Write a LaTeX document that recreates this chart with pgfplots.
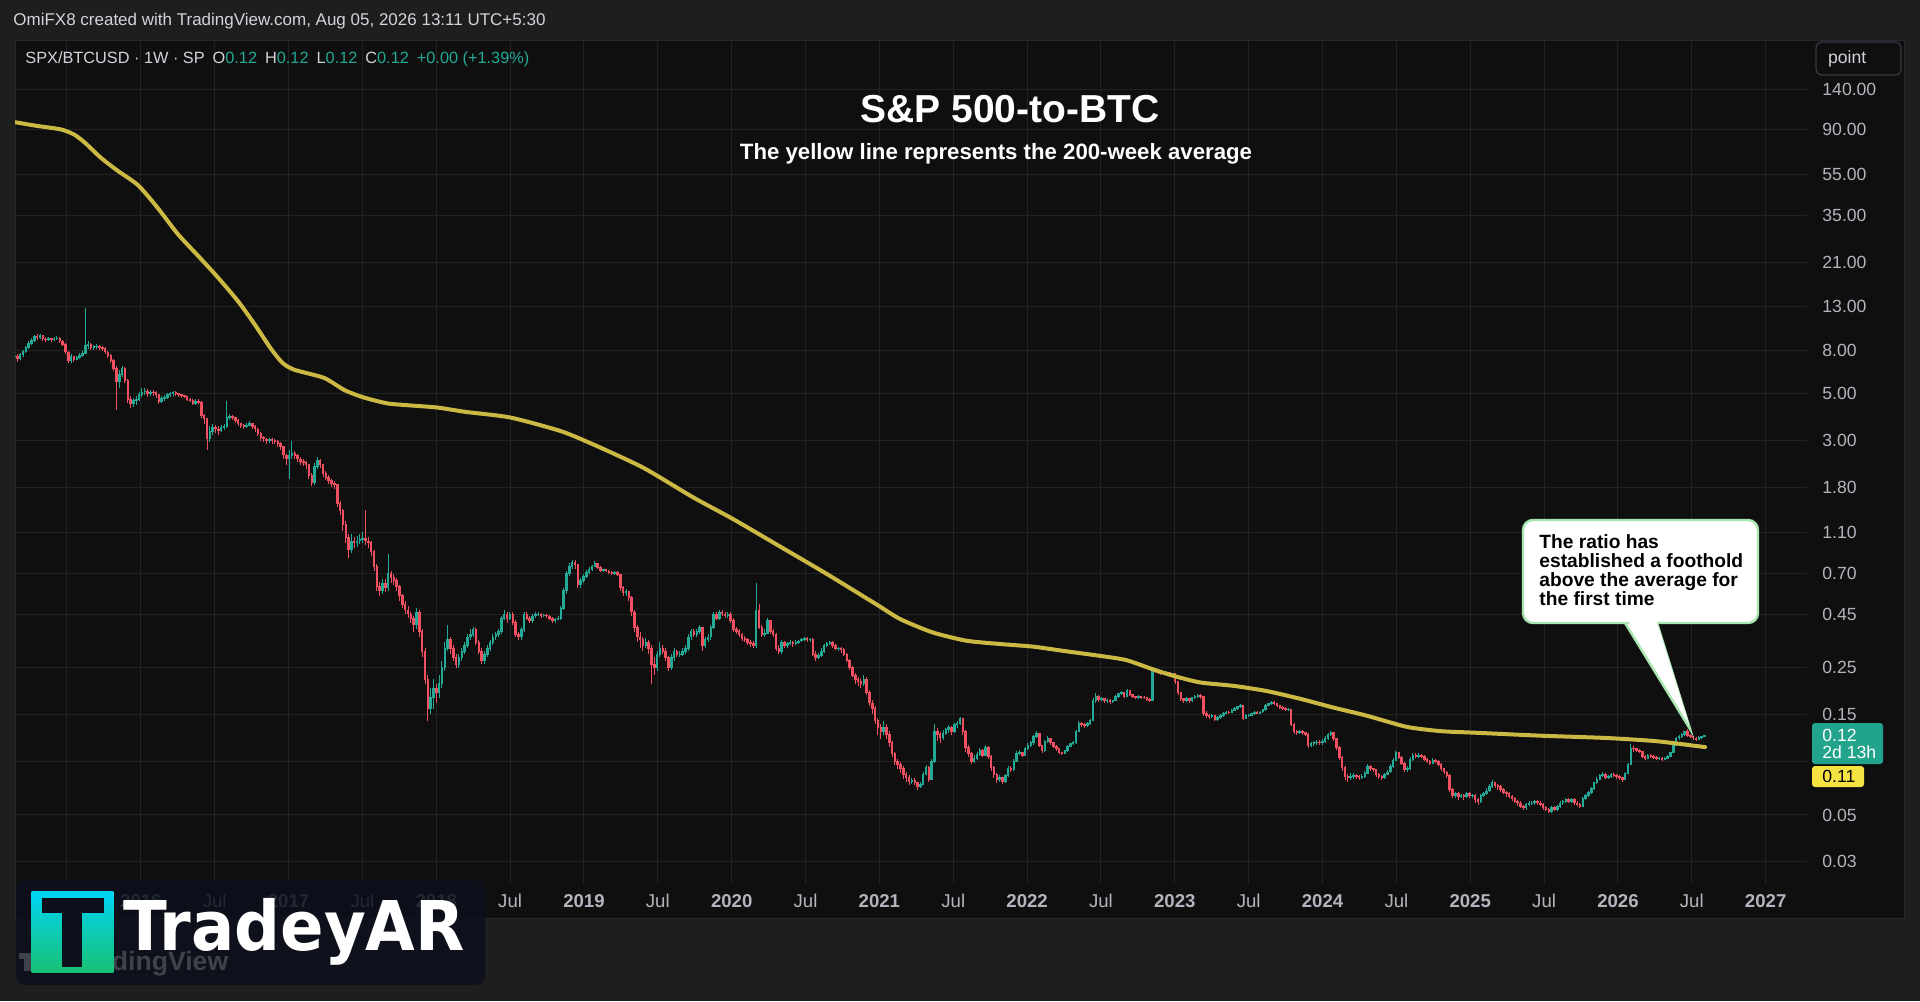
\documentclass[border=0pt]{standalone}
\usepackage{pgfplots}
\pgfplotsset{compat=1.18}
\usepackage{pgfplotstable}
\usepackage{fontspec}
\setmainfont{Liberation Sans}
\newfontfamily\logofont{DejaVu Sans}
\definecolor{bgout}{HTML}{1E1E1E}
\definecolor{bgpanel}{HTML}{0F0F0F}
\definecolor{gridc}{HTML}{222222}
\definecolor{upc}{HTML}{24A996}
\definecolor{dnc}{HTML}{F05060}
\definecolor{mac}{HTML}{CCB944}
\definecolor{txt}{HTML}{D1D4DC}
\definecolor{tickc}{HTML}{B2B5BE}
\definecolor{tagg}{HTML}{22A38C}
\definecolor{tagy}{HTML}{F5E342}
\definecolor{annb}{HTML}{A8E6B0}
\definecolor{logobg}{HTML}{0C101C}
\definecolor{iconT}{HTML}{00D4F5}
\definecolor{iconB}{HTML}{18C173}
\definecolor{wm}{HTML}{3E424B}
\definecolor{btnb}{HTML}{363A45}

\pgfplotstableread{
c h l
7.55 7.85 7.30
7.35 7.70 7.10
7.65 7.80 7.20
7.95 8.10 7.50
8.30 8.45 7.80
8.65 8.90 8.20
8.95 9.20 8.50
9.40 9.55 8.80
9.25 9.60 9.00
9.45 9.60 9.10
9.10 9.50 8.90
9.00 9.30 8.80
9.15 9.30 8.90
9.00 9.25 8.80
9.10 9.30 8.90
9.20 9.40 9.00
8.90 9.30 8.70
8.60 9.00 8.40
7.90 8.70 7.70
7.20 8.00 7.00
7.50 7.70 7.00
7.30 7.60 7.10
7.45 7.60 7.20
7.60 7.80 7.30
7.80 8.00 7.50
8.45 12.8 7.70
8.60 8.90 8.20
8.30 8.70 8.10
8.35 8.50 8.10
8.40 8.60 8.20
8.30 8.50 8.10
8.20 8.40 8.00
7.90 8.30 7.70
7.60 8.00 7.40
7.20 7.70 7.00
6.60 7.30 6.40
5.70 6.80 4.20
6.20 6.50 5.30
6.60 6.80 6.00
5.80 6.70 5.60
4.70 5.90 4.50
4.50 4.90 4.30
4.65 4.80 4.35
4.70 4.90 4.40
4.95 5.10 4.60
5.10 5.30 4.85
5.15 5.30 4.95
5.00 5.25 4.85
5.10 5.20 4.90
5.05 5.20 4.90
4.95 5.15 4.80
4.60 5.00 4.45
4.75 4.90 4.50
4.80 4.95 4.60
4.95 5.05 4.70
5.00 5.10 4.85
5.05 5.15 4.90
5.00 5.15 4.90
4.95 5.05 4.85
4.90 5.00 4.80
4.85 4.95 4.75
4.70 4.90 4.60
4.65 4.80 4.55
4.50 4.70 4.40
4.60 4.70 4.40
4.55 4.70 4.45
3.95 4.60 3.85
3.80 4.00 3.60
3.07 3.85 2.70
3.30 3.50 2.95
3.45 3.60 3.20
3.40 3.55 3.25
3.35 3.50 3.20
3.45 3.55 3.30
3.50 3.60 3.35
3.85 4.60 3.45
3.90 4.00 3.75
3.85 3.95 3.75
3.75 3.90 3.65
3.60 3.80 3.50
3.55 3.65 3.45
3.50 3.60 3.40
3.55 3.65 3.45
3.60 3.70 3.50
3.50 3.65 3.40
3.40 3.55 3.30
3.25 3.45 3.15
3.10 3.30 3.00
3.05 3.15 2.95
3.00 3.10 2.90
3.02 3.10 2.92
3.00 3.08 2.90
2.98 3.06 2.88
2.90 3.02 2.80
2.80 2.95 2.70
2.56 2.82 2.45
2.45 2.60 2.30
2.55 2.70 1.96
2.60 3.00 2.45
2.55 2.68 2.45
2.45 2.60 2.38
2.39 2.50 2.30
2.35 2.45 2.28
2.30 2.40 2.20
2.05 2.32 1.98
1.90 2.10 1.82
2.25 2.35 1.85
2.40 2.50 2.20
2.30 2.45 2.22
2.10 2.32 2.02
2.00 2.15 1.94
1.93 2.05 1.86
1.88 1.98 1.80
1.85 1.92 1.76
1.50 1.86 1.45
1.40 1.55 1.33
1.20 1.42 1.12
1.04 1.24 0.98
0.91 1.08 0.83
1.00 1.08 0.88
0.98 1.05 0.93
1.00 1.06 0.94
1.02 1.08 0.97
1.03 1.10 0.98
1.00 1.40 0.96
0.98 1.05 0.93
0.89 1.00 0.85
0.76 0.91 0.72
0.61 0.78 0.58
0.58 0.64 0.55
0.63 0.66 0.56
0.60 0.66 0.57
0.70 0.87 0.58
0.67 0.72 0.63
0.65 0.70 0.62
0.61 0.67 0.58
0.55 0.62 0.52
0.50 0.56 0.48
0.47 0.52 0.45
0.45 0.49 0.43
0.43 0.46 0.41
0.40 0.44 0.37
0.46 0.48 0.38
0.37 0.47 0.35
0.30 0.38 0.28
0.22 0.31 0.21
0.16 0.23 0.14
0.18 0.20 0.15
0.20 0.22 0.16
0.19 0.21 0.17
0.21 0.23 0.18
0.25 0.27 0.20
0.31 0.33 0.24
0.34 0.40 0.30
0.31 0.35 0.29
0.28 0.32 0.27
0.26 0.29 0.25
0.28 0.29 0.25
0.30 0.31 0.27
0.32 0.33 0.29
0.35 0.36 0.31
0.36 0.38 0.34
0.38 0.39 0.35
0.33 0.385 0.32
0.30 0.34 0.29
0.27 0.31 0.26
0.29 0.30 0.26
0.31 0.32 0.28
0.33 0.34 0.30
0.35 0.36 0.32
0.36 0.37 0.34
0.37 0.38 0.35
0.43 0.44 0.36
0.45 0.47 0.42
0.43 0.46 0.41
0.45 0.46 0.42
0.41 0.46 0.40
0.36 0.42 0.35
0.35 0.37 0.34
0.38 0.39 0.34
0.45 0.46 0.37
0.43 0.46 0.42
0.42 0.44 0.41
0.44 0.45 0.41
0.45 0.46 0.43
0.45 0.46 0.44
0.44 0.455 0.43
0.445 0.45 0.435
0.44 0.45 0.43
0.43 0.445 0.42
0.42 0.435 0.41
0.425 0.43 0.41
0.43 0.44 0.42
0.48 0.49 0.42
0.58 0.60 0.47
0.70 0.72 0.56
0.76 0.79 0.68
0.79 0.81 0.74
0.77 0.81 0.74
0.62 0.78 0.60
0.65 0.67 0.60
0.68 0.70 0.63
0.71 0.73 0.67
0.73 0.75 0.70
0.76 0.77 0.72
0.78 0.80 0.75
0.75 0.79 0.74
0.72 0.76 0.71
0.73 0.74 0.71
0.72 0.74 0.71
0.71 0.73 0.70
0.70 0.72 0.69
0.71 0.72 0.69
0.69 0.72 0.68
0.60 0.70 0.58
0.57 0.61 0.55
0.575 0.59 0.55
0.54 0.58 0.52
0.46 0.55 0.44
0.39 0.47 0.37
0.35 0.40 0.33
0.34 0.37 0.31
0.32 0.35 0.30
0.33 0.345 0.31
0.31 0.34 0.29
0.26 0.32 0.21
0.25 0.28 0.23
0.29 0.30 0.24
0.31 0.33 0.28
0.30 0.32 0.29
0.28 0.31 0.27
0.25 0.285 0.24
0.28 0.29 0.245
0.30 0.31 0.27
0.29 0.305 0.28
0.29 0.30 0.28
0.30 0.31 0.285
0.31 0.32 0.29
0.35 0.36 0.30
0.37 0.38 0.34
0.36 0.38 0.35
0.37 0.38 0.35
0.39 0.40 0.36
0.32 0.39 0.30
0.34 0.35 0.31
0.35 0.36 0.33
0.39 0.40 0.34
0.45 0.46 0.38
0.43 0.46 0.42
0.46 0.47 0.42
0.45 0.47 0.44
0.44 0.46 0.43
0.45 0.46 0.43
0.42 0.46 0.41
0.38 0.43 0.37
0.37 0.39 0.36
0.36 0.38 0.35
0.345 0.365 0.335
0.34 0.355 0.33
0.33 0.345 0.32
0.325 0.34 0.315
0.32 0.335 0.31
0.47 0.63 0.31
0.39 0.50 0.38
0.36 0.40 0.35
0.365 0.38 0.35
0.42 0.43 0.36
0.37 0.42 0.36
0.36 0.38 0.35
0.31 0.365 0.30
0.30 0.32 0.29
0.33 0.34 0.29
0.32 0.335 0.31
0.325 0.33 0.31
0.33 0.34 0.32
0.325 0.335 0.315
0.33 0.34 0.32
0.335 0.34 0.325
0.34 0.345 0.33
0.345 0.35 0.335
0.34 0.35 0.33
0.34 0.345 0.33
0.29 0.345 0.285
0.28 0.30 0.27
0.285 0.295 0.275
0.30 0.31 0.28
0.32 0.325 0.295
0.325 0.33 0.315
0.33 0.335 0.32
0.32 0.335 0.31
0.31 0.325 0.305
0.31 0.315 0.30
0.305 0.315 0.295
0.29 0.31 0.285
0.27 0.295 0.265
0.25 0.275 0.245
0.23 0.255 0.225
0.22 0.235 0.21
0.215 0.225 0.205
0.21 0.22 0.20
0.22 0.23 0.205
0.19 0.225 0.185
0.17 0.195 0.165
0.16 0.175 0.15
0.14 0.165 0.135
0.13 0.145 0.12
0.125 0.135 0.115
0.13 0.14 0.12
0.12 0.135 0.115
0.11 0.125 0.105
0.098 0.112 0.094
0.09 0.10 0.086
0.087 0.092 0.083
0.083 0.089 0.079
0.078 0.085 0.074
0.075 0.08 0.072
0.072 0.077 0.069
0.073 0.075 0.07
0.071 0.075 0.069
0.068 0.072 0.066
0.07 0.072 0.067
0.078 0.08 0.069
0.084 0.086 0.077
0.074 0.085 0.072
0.09 0.092 0.073
0.125 0.135 0.088
0.12 0.13 0.112
0.117 0.124 0.11
0.122 0.126 0.114
0.127 0.13 0.12
0.13 0.134 0.123
0.124 0.132 0.12
0.134 0.136 0.122
0.136 0.14 0.13
0.144 0.146 0.133
0.124 0.145 0.12
0.105 0.126 0.1
0.098 0.107 0.094
0.09 0.1 0.087
0.093 0.096 0.088
0.097 0.099 0.091
0.101 0.104 0.095
0.096 0.103 0.094
0.105 0.107 0.095
0.095 0.106 0.092
0.084 0.096 0.081
0.078 0.085 0.075
0.074 0.079 0.071
0.075 0.077 0.072
0.072 0.076 0.07
0.077 0.078 0.071
0.083 0.085 0.076
0.082 0.085 0.08
0.09 0.092 0.081
0.098 0.101 0.089
0.099 0.102 0.096
0.096 0.1 0.094
0.103 0.105 0.095
0.107 0.11 0.102
0.11 0.112 0.105
0.118 0.12 0.108
0.122 0.125 0.116
0.107 0.123 0.105
0.101 0.108 0.098
0.112 0.114 0.1
0.115 0.118 0.11
0.11 0.116 0.108
0.106 0.111 0.104
0.103 0.107 0.101
0.099 0.104 0.097
0.098 0.1 0.096
0.101 0.102 0.097
0.106 0.107 0.1
0.109 0.11 0.105
0.11 0.112 0.107
0.125 0.127 0.109
0.136 0.14 0.124
0.134 0.138 0.131
0.133 0.136 0.13
0.136 0.138 0.131
0.14 0.143 0.134
0.174 0.18 0.139
0.183 0.19 0.17
0.177 0.185 0.172
0.179 0.182 0.174
0.174 0.18 0.17
0.175 0.178 0.171
0.172 0.177 0.168
0.174 0.176 0.17
0.183 0.186 0.173
0.188 0.19 0.18
0.19 0.193 0.185
0.183 0.191 0.18
0.195 0.198 0.182
0.186 0.196 0.184
0.182 0.188 0.179
0.18 0.184 0.177
0.182 0.185 0.178
0.181 0.184 0.178
0.18 0.183 0.177
0.177 0.182 0.174
0.175 0.179 0.172
0.242 0.25 0.174
0.24 0.246 0.235
0.237 0.242 0.233
0.235 0.24 0.231
0.234 0.238 0.23
0.237 0.24 0.232
0.234 0.239 0.231
0.234 0.237 0.231
0.215 0.235 0.21
0.19 0.217 0.186
0.178 0.192 0.174
0.174 0.18 0.17
0.178 0.181 0.172
0.174 0.18 0.171
0.18 0.182 0.172
0.182 0.185 0.177
0.185 0.188 0.179
0.182 0.187 0.178
0.152 0.183 0.148
0.148 0.155 0.145
0.146 0.15 0.143
0.148 0.15 0.144
0.142 0.149 0.139
0.145 0.147 0.14
0.148 0.15 0.143
0.152 0.154 0.146
0.154 0.156 0.15
0.153 0.156 0.151
0.157 0.159 0.152
0.16 0.162 0.155
0.163 0.165 0.158
0.166 0.168 0.161
0.144 0.167 0.141
0.148 0.15 0.142
0.149 0.151 0.146
0.151 0.153 0.147
0.154 0.156 0.149
0.152 0.156 0.15
0.154 0.156 0.15
0.158 0.16 0.152
0.166 0.168 0.156
0.169 0.171 0.164
0.171 0.173 0.167
0.169 0.173 0.166
0.166 0.17 0.163
0.162 0.167 0.159
0.16 0.164 0.157
0.158 0.162 0.155
0.158 0.161 0.155
0.135 0.159 0.132
0.124 0.137 0.121
0.123 0.126 0.12
0.125 0.127 0.121
0.123 0.126 0.12
0.121 0.124 0.118
0.107 0.122 0.104
0.109 0.111 0.105
0.11 0.112 0.106
0.111 0.113 0.108
0.11 0.113 0.107
0.112 0.115 0.107
0.115 0.118 0.11
0.12 0.122 0.113
0.123 0.125 0.118
0.115 0.124 0.112
0.105 0.116 0.102
0.094 0.106 0.091
0.084 0.095 0.081
0.076 0.085 0.073
0.075 0.078 0.072
0.076 0.079 0.073
0.077 0.079 0.074
0.076 0.078 0.074
0.075 0.077 0.073
0.076 0.078 0.074
0.079 0.081 0.075
0.085 0.087 0.078
0.083 0.086 0.081
0.082 0.084 0.08
0.078 0.083 0.076
0.076 0.079 0.074
0.075 0.077 0.073
0.078 0.079 0.074
0.08 0.082 0.077
0.085 0.087 0.079
0.091 0.093 0.084
0.099 0.101 0.09
0.094 0.1 0.092
0.088 0.095 0.086
0.082 0.089 0.08
0.083 0.085 0.08
0.092 0.094 0.082
0.096 0.098 0.09
0.095 0.098 0.093
0.096 0.098 0.093
0.095 0.097 0.093
0.092 0.096 0.09
0.09 0.093 0.088
0.088 0.091 0.086
0.091 0.093 0.087
0.09 0.092 0.088
0.087 0.091 0.085
0.083 0.088 0.081
0.08 0.084 0.078
0.077 0.081 0.075
0.066 0.078 0.064
0.062 0.067 0.06
0.063 0.064 0.06
0.061 0.064 0.059
0.062 0.063 0.06
0.061 0.063 0.059
0.063 0.064 0.06
0.062 0.064 0.06
0.062 0.063 0.06
0.059 0.063 0.057
0.058 0.06 0.056
0.062 0.063 0.057
0.063 0.064 0.061
0.065 0.067 0.062
0.068 0.07 0.064
0.071 0.073 0.067
0.069 0.072 0.067
0.068 0.07 0.066
0.066 0.069 0.064
0.064 0.067 0.063
0.063 0.065 0.061
0.061 0.064 0.06
0.06 0.062 0.058
0.058 0.061 0.057
0.057 0.059 0.055
0.055 0.058 0.054
0.054 0.056 0.053
0.056 0.057 0.053
0.057 0.058 0.055
0.057 0.058 0.056
0.058 0.059 0.056
0.057 0.059 0.056
0.056 0.058 0.055
0.054 0.057 0.053
0.053 0.055 0.052
0.052 0.054 0.051
0.054 0.055 0.051
0.053 0.055 0.052
0.055 0.056 0.052
0.057 0.058 0.054
0.058 0.059 0.056
0.059 0.06 0.057
0.058 0.06 0.057
0.059 0.06 0.057
0.057 0.06 0.056
0.056 0.058 0.055
0.055 0.057 0.054
0.06 0.061 0.055
0.062 0.063 0.059
0.064 0.065 0.061
0.067 0.068 0.063
0.071 0.072 0.066
0.074 0.076 0.07
0.077 0.078 0.073
0.078 0.08 0.076
0.075 0.079 0.074
0.076 0.077 0.074
0.078 0.079 0.075
0.077 0.079 0.076
0.076 0.078 0.074
0.075 0.077 0.073
0.074 0.076 0.072
0.079 0.08 0.073
0.087 0.088 0.078
0.104 0.109 0.086
0.103 0.106 0.1
0.101 0.104 0.099
0.1 0.103 0.098
0.095 0.101 0.093
0.093 0.096 0.091
0.096 0.097 0.092
0.095 0.097 0.093
0.094 0.096 0.092
0.093 0.095 0.091
0.093 0.094 0.091
0.092 0.094 0.09
0.093 0.094 0.091
0.095 0.096 0.092
0.099 0.1 0.094
0.107 0.108 0.098
0.116 0.117 0.106
0.118 0.12 0.114
0.12 0.122 0.116
0.124 0.125 0.118
0.119 0.128 0.117
0.118 0.121 0.116
0.116 0.119 0.114
0.114 0.117 0.112
0.117 0.118 0.113
0.1175 0.119 0.115
0.119 0.12 0.117
}\candles

\pgfplotstablecreatecol[create col/assign/.code={%
  \getprevrow{c}{\myprev}%
  \ifx\myprev\empty\getthisrow{c}{\myprev}\fi
  \pgfkeyslet{/pgfplots/table/create col/next content}\myprev
}]{o}{\candles}

\pgfplotstableread{
x v
2015.145 97.5
2015.30 93.5
2015.46 90
2015.55 85
2015.62 78
2015.73 66
2015.84 57.5
2015.98 49
2016.11 38.5
2016.25 28.7
2016.39 22.5
2016.52 17.9
2016.66 13.7
2016.77 10.7
2016.88 8.2
2016.96 7.0
2017.04 6.5
2017.24 5.95
2017.38 5.2
2017.51 4.8
2017.67 4.5
2017.83 4.4
2018.01 4.3
2018.20 4.1
2018.50 3.86
2018.84 3.33
2019.06 2.88
2019.40 2.23
2019.74 1.61
2020.01 1.27
2020.30 0.966
2020.64 0.70
2020.98 0.50
2021.14 0.426
2021.36 0.368
2021.59 0.336
2021.82 0.324
2022.04 0.315
2022.27 0.299
2022.49 0.285
2022.67 0.272
2022.85 0.246
2022.99 0.229
2023.17 0.213
2023.40 0.205
2023.62 0.194
2023.85 0.178
2024.07 0.162
2024.30 0.148
2024.57 0.131
2024.80 0.125
2025.02 0.123
2025.47 0.119
2025.92 0.116
2026.26 0.112
2026.59 0.105
}\ma

\begin{document}
\begin{tikzpicture}
\useasboundingbox (0pt,0pt) rectangle (960pt,-500.5pt);
\fill[bgout] (0pt,0pt) rectangle (960pt,-500.5pt);
\fill[bgpanel] (7.5pt,-20pt) rectangle (952pt,-459pt);
\draw[color=btnb!60!bgpanel, line width=0.5pt] (7.5pt,-20pt) rectangle (952pt,-459pt);

\begin{axis}[
  at={(7.5pt,-442pt)}, anchor=south west,
  scale only axis, width=896pt, height=422pt,
  xmin=2015.148, xmax=2027.28, ymin=-1.629, ymax=2.379,
  axis line style={draw=none},
  major tick length=0pt, tick style={draw=none},
  grid=major, major grid style={draw=gridc, line width=0.5pt},
  xtick={2015.5,2016,2016.5,2017,2017.5,2018,2018.5,2019,2019.5,2020,2020.5,2021,2021.5,2022,2022.5,2023,2023.5,2024,2024.5,2025,2025.5,2026,2026.5,2027},
  xticklabels={Jul,\textbf{2016},Jul,\textbf{2017},Jul,\textbf{2018},Jul,\textbf{2019},Jul,\textbf{2020},Jul,\textbf{2021},Jul,\textbf{2022},Jul,\textbf{2023},Jul,\textbf{2024},Jul,\textbf{2025},Jul,\textbf{2026},Jul,\textbf{2027}},
  xticklabel style={anchor=base, yshift=-11.5pt, inner sep=0pt, font=\fontsize{9.3}{10}\selectfont, text=tickc},
  ytick={2.1461,1.9542,1.7404,1.5441,1.3222,1.1139,0.9031,0.6990,0.4771,0.2553,0.0414,-0.1549,-0.3468,-0.6021,-0.8239,-1.0458,-1.3010,-1.5229},
  yticklabels={140.00,90.00,55.00,35.00,21.00,13.00,8.00,5.00,3.00,1.80,1.10,0.70,0.45,0.25,0.15,{},0.05,0.03},
  yticklabel pos=right,
  yticklabel style={anchor=west, xshift=7.5pt, inner sep=0pt, font=\fontsize{8.8}{10}\selectfont, text=tickc},
  clip=true,
]
\addplot[draw=none, mark=none, forget plot,
  restrict expr to domain={(\thisrow{c}-\thisrow{o})*1000}{0:100000},
  error bars/.cd, y dir=minus, y explicit, error mark=none,
  error bar style={draw=upc, line width=0.5pt}]
  table[x expr={2015.145+\coordindex/52.18}, y expr={log10(\thisrow{h})},
    y error minus expr={log10(\thisrow{h})-log10(\thisrow{l})}]{\candles};
\addplot[draw=none, mark=none, forget plot,
  restrict expr to domain={(\thisrow{o}-\thisrow{c})*1000}{0.0001:100000},
  error bars/.cd, y dir=minus, y explicit, error mark=none,
  error bar style={draw=dnc, line width=0.5pt}]
  table[x expr={2015.145+\coordindex/52.18}, y expr={log10(\thisrow{h})},
    y error minus expr={log10(\thisrow{h})-log10(\thisrow{l})}]{\candles};
\addplot[draw=none, mark=none, forget plot,
  restrict expr to domain={(\thisrow{c}-\thisrow{o})*1000}{0:100000},
  error bars/.cd, y dir=minus, y explicit, error mark=none,
  error bar style={draw=upc, line width=1.25pt}]
  table[x expr={2015.145+\coordindex/52.18}, y expr={log10(\thisrow{c})+0.002},
    y error minus expr={log10(\thisrow{c})-log10(\thisrow{o})+0.004}]{\candles};
\addplot[draw=none, mark=none, forget plot,
  restrict expr to domain={(\thisrow{o}-\thisrow{c})*1000}{0.0001:100000},
  error bars/.cd, y dir=minus, y explicit, error mark=none,
  error bar style={draw=dnc, line width=1.25pt}]
  table[x expr={2015.145+\coordindex/52.18}, y expr={log10(\thisrow{o})+0.002},
    y error minus expr={log10(\thisrow{o})-log10(\thisrow{c})+0.004}]{\candles};
\addplot[mac, line width=2pt, line join=round, line cap=round, smooth, tension=0.4, mark=none]
  table[x=x, y expr={log10(\thisrow{v})}]{\ma};
\end{axis}

\begin{scope}[x=1pt,y=1pt]
\node[anchor=base west, inner sep=0, text=txt, font=\fontsize{8.5}{9}\selectfont] at (6.5,-12.9) {OmiFX8 created with TradingView.com, Aug 05, 2026 13:11 UTC+5:30};
\node[anchor=base west, inner sep=0, font=\fontsize{8.15}{9}\selectfont] at (12.5,-31.8) {\textcolor{txt}{SPX/BTCUSD · 1W · SP}\hspace{4pt}\textcolor{txt}{O}\textcolor{upc}{0.12}\hspace{4pt}\textcolor{txt}{H}\textcolor{upc}{0.12}\hspace{4pt}\textcolor{txt}{L}\textcolor{upc}{0.12}\hspace{4pt}\textcolor{txt}{C}\textcolor{upc}{0.12}\hspace{4pt}\textcolor{upc}{+0.00 (+1.39\%)}};

\node[anchor=base, inner sep=0, text=white, font=\bfseries\fontsize{19.5}{20}\selectfont] at (505,-61.2) {S\&P 500-to-BTC};
\node[anchor=base, inner sep=0, text=white, font=\bfseries\fontsize{11.1}{12}\selectfont] at (498,-79.6) {The yellow line represents the 200-week average};

\draw[btnb, fill=bgpanel, rounded corners=3pt, line width=0.6pt] (908,-21) rectangle (950.5,-37.5);
\node[anchor=west, inner sep=0, text=txt, font=\fontsize{8.8}{9}\selectfont] at (913.8,-29.6) {point};

\fill[tagg, rounded corners=1.5pt] (906,-361.5) rectangle (941.5,-382);
\node[anchor=west, inner sep=0, text=white, font=\fontsize{8.8}{9}\selectfont] at (911,-367.5) {0.12};
\node[anchor=west, inner sep=0, text=white, font=\fontsize{8.8}{9}\selectfont] at (911,-376) {2d 13h};
\fill[tagy, rounded corners=1.5pt] (906,-383) rectangle (932,-393.5);
\node[anchor=west, inner sep=0, text=black, font=\fontsize{8.8}{9}\selectfont] at (911,-388.2) {0.11};

\filldraw[fill=white, draw=annb, line width=1.2pt, line join=miter] (812.5,-311.5) -- (845,-364.5) -- (828.5,-311.5);
\filldraw[fill=white, draw=annb, line width=1.2pt, rounded corners=5pt] (761.5,-260) rectangle (879,-311.5);
\fill[white] (813.2,-309) -- (827.8,-309) -- (844.6,-362.5) -- cycle;
\node[anchor=north west, inner sep=0, align=left, text=black, font=\bfseries\fontsize{9.6}{9.6}\selectfont] at (769.5,-267) {The ratio has\\established a foothold\\above the average for\\the first time};

\fill[logobg, opacity=0.86, rounded corners=4.5pt] (8,-440) rectangle (242.5,-492.5);
\fill[wm] (9.5,-476.5) rectangle (16.5,-479.5);
\fill[wm] (12,-479.5) rectangle (16.5,-485.5);
\node[anchor=base west, inner sep=0, text=wm, font=\bfseries\fontsize{13.3}{14}\selectfont] at (35.8,-485) {TradingView};
\shade[top color=iconT, bottom color=iconB] (15.8,-445.8) rectangle (56.7,-486.3);
\fill[logobg] (20.8,-449) rectangle (52,-456.5);
\fill[logobg] (30.8,-456.5) rectangle (40.8,-483.5);
\node[anchor=base west, inner sep=0, text=white] at (61.3,-475.2) {\scalebox{0.935}[1]{\logofont\bfseries\fontsize{34.3}{35}\selectfont TradeyAR}};
\end{scope}
\end{tikzpicture}
\end{document}
